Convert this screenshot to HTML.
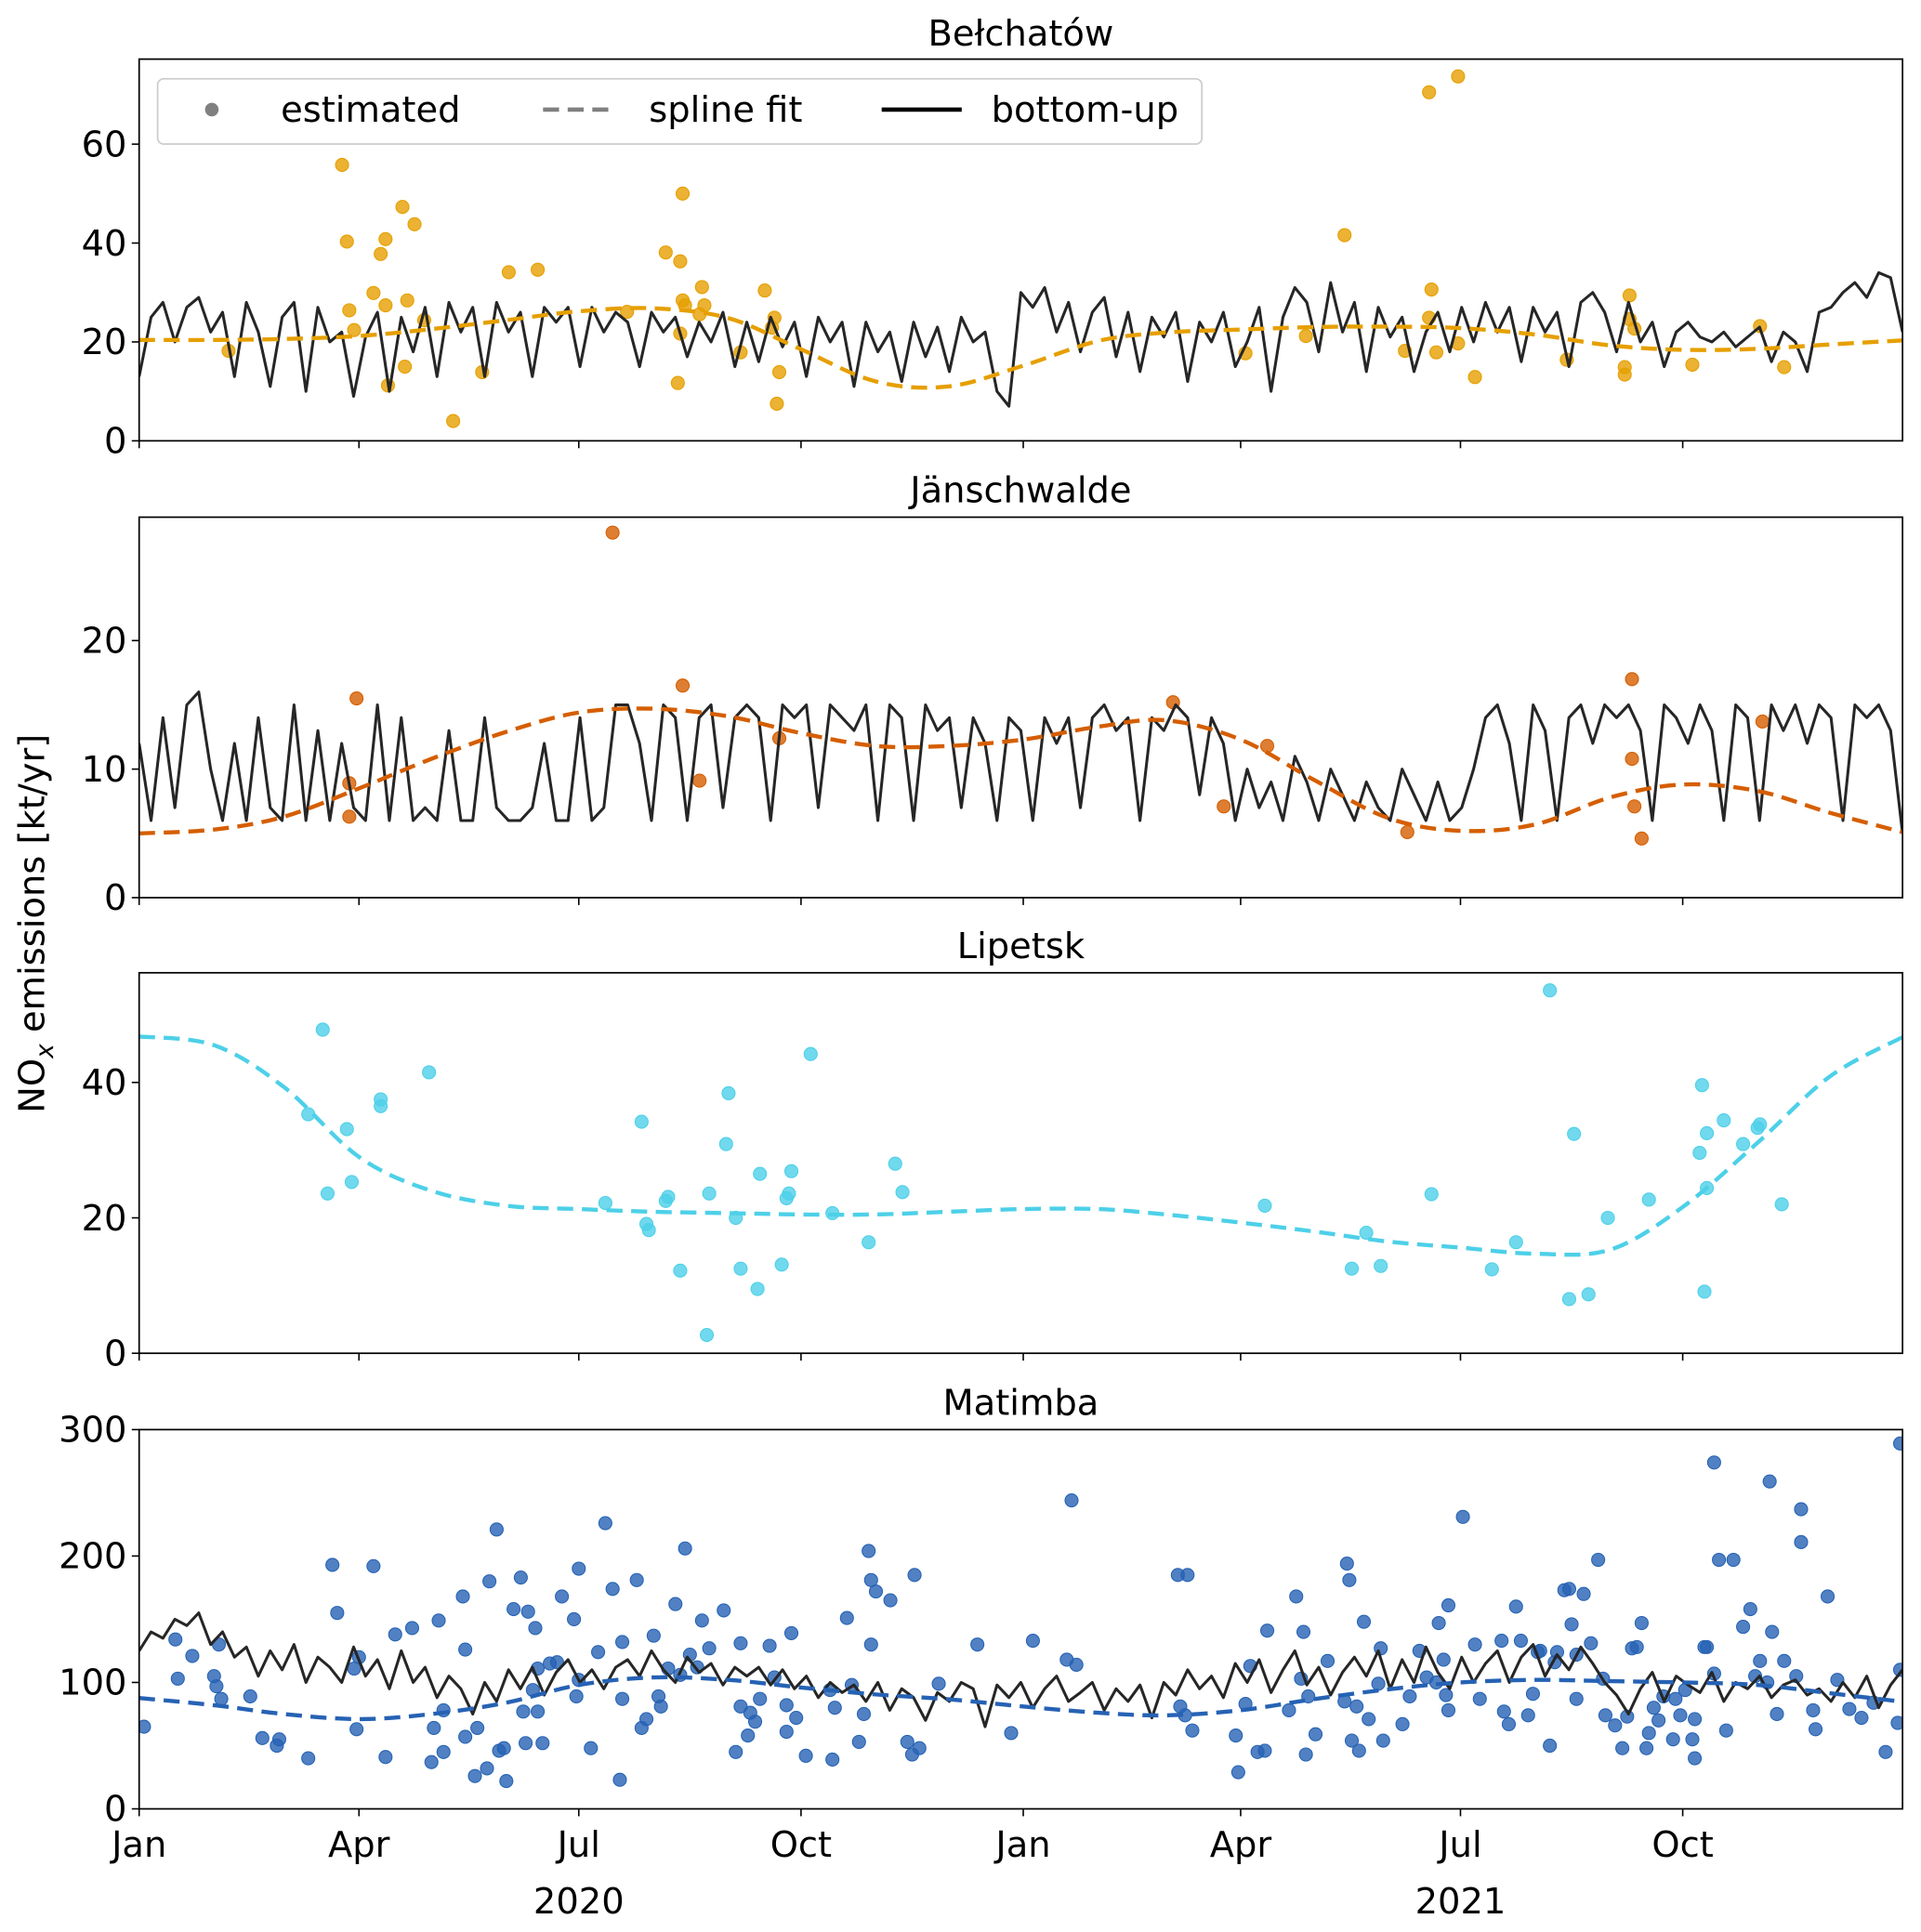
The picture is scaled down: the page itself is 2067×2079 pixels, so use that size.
<!DOCTYPE html>
<html><head><meta charset="utf-8"><style>
html,body{margin:0;padding:0;background:#fff;}
svg{display:block;font-family:"DejaVu Sans","Liberation Sans",sans-serif;}
</style></head><body>
<svg id="chart" width="2067" height="2079" viewBox="0 0 1560 1569" preserveAspectRatio="none" xmlns="http://www.w3.org/2000/svg">
<text transform="translate(36,750) rotate(-90)" text-anchor="middle" font-size="29" fill="#000">NO<tspan font-size="20" dy="7" font-style="italic">x</tspan><tspan dy="-7"> emissions [kt/yr]</tspan></text>
<g id="panels"></g>
<g>
<rect x="128" y="64" width="848" height="53" rx="5" fill="#fff" fill-opacity="0.85" stroke="#ccc" stroke-width="1.3"/>
<circle cx="172" cy="89" r="5.5" fill="#808080"/>
<text x="228" y="99" font-size="29">estimated</text>
<line x1="441" y1="89" x2="499" y2="89" stroke="#808080" stroke-width="3.5" stroke-dasharray="13,7"/>
<text x="527" y="99" font-size="29">spline fit</text>
<line x1="716" y1="89" x2="781" y2="89" stroke="#000" stroke-width="3.5"/>
<text x="805" y="99" font-size="29">bottom-up</text>
</g>
</svg>
<script>
const knotDays=[0,31,60,91,121,152,182,213,244,274,305,335,366,397,425,456,486,517,547,578,609,639,670,700,730];
const monthTickDays=[0,91,182,274,366,456,547,639];
const monthTickLabels=["Jan","Apr","Jul","Oct","Jan","Apr","Jul","Oct"];
const yearLabels=["2020","2021"];
const yearLabelDays=[182,547];

const belTicks=[0,20,40,60];
const belDotDays=[37,84,86,87,89,97,100,102,102,103,109,110,111,114,118,130,142,153,165,202,218,223,224,225,225,226,224,232,233,234,249,259,262,264,265,263,458,483,499,524,534,535,534,537,546,546,553,591,615,615,617,619,617,643,671,681];
const belDotVals=[18.2,55.8,40.3,26.4,22.4,29.9,37.8,40.8,27.4,11.2,47.3,15,28.4,43.8,24.4,4,13.9,34.1,34.6,26.1,38.1,11.7,36.3,50,28.4,27.4,21.7,25.6,31.1,27.4,17.9,30.4,22.9,7.5,13.9,24.9,17.7,21.2,41.6,18.2,70.5,30.6,24.9,17.9,73.7,19.7,12.9,16.4,13.4,14.9,29.4,22.7,24.6,15.4,23.2,14.9];
const belSpline=[20.4,20.4,20.6,21.2,22.6,24.4,26.2,26.8,24.8,18.5,12,11,15.2,20.2,21.9,22.5,23,23.1,22.8,21.5,19.3,18.4,18.6,19.5,20.3];
const belBottomUp=[13,25,28,20,27,29,22,26, 13,28,22,11,25,28,10, 27,20,22,9,21,26,10, 25,18,27,13,28,22,27,13,28,22, 26,13,27,24,27,15,27,22,26, 24,15,26,22,25,17,24,20,26,15, 24,16,25,19,24,13,25,20,24,11, 24,18,22,12,24,17,23,14,25,20,22,10, 7,30,27,31,22,28,18,26,29,17, 26,14,25,21,26,12,24,20,26,15, 20,27,10,25,31,28,18,32,22,28, 14,27,21,25,14,22,26,18,27,20, 28,22,27,16,27,22,26,15,28,30, 26,18,28,20,24,15,22,24, 21,20,22,19,21,23,16,22,20,14, 26,27,30,32,29,34,33,22];

const janTicks=[0,10,20];
const janDotDays=[90,87,87,196,225,232,265,428,449,467,525,618,618,619,622,672];
const janDotVals=[15.5,8.9,6.3,28.4,16.5,9.1,12.4,15.2,7.1,11.8,5.1,17.0,10.8,7.1,4.6,13.7];
const janSpline=[5.0,5.3,6.3,8.5,10.8,12.9,14.4,14.7,14.1,12.8,11.8,11.8,12.3,13.3,13.8,12.3,9.2,6.2,5.2,5.7,7.8,8.8,8.3,6.6,5.1];
const janBottomUp=[12,6,14,7,15,16,10,6, 12,6,14,7,6,15,6, 13,6,12,7,6,15,6, 14,6,7,6,13,6,6,14,7,6, 6,7,12,6,6,14,6,7,15, 15,12,6,15,14,6,14,15,7,14, 15,14,6,15,14,15,7,15,14,13, 15,6,15,14,6,15,13,14,7,14,12,6, 14,13,6,14,12,14,7,14,15,13, 14,6,14,13,15,14,8,14,12,6, 10,7,9,6,11,9,6,10,8,6, 9,7,6,10,8,6,9,6,7,10, 14,15,12,6,15,13,6,14,15,12, 15,14,15,13,6,15,14,12, 15,13,6,15,14,6,15,13,15,12, 15,14,6,15,14,15,13,5];

const lipTicks=[0,20,40];
const lipDotDays=[70,76,78,86,88,100,100,120,193,208,210,211,218,219,224,235,236,243,244,247,249,256,257,266,268,269,270,278,287,302,313,316,466,502,508,514,535,560,570,584,592,594,600,608,625,646,647,648,649,649,656,664,670,671,680];
const lipDotVals=[35.3,47.8,23.6,33.1,25.3,37.5,36.5,41.5,22.2,34.2,19.1,18.2,22.5,23.1,12.2,2.7,23.6,30.9,38.4,20,12.5,9.5,26.5,13.1,22.9,23.6,26.9,44.2,20.7,16.4,28,23.8,21.8,12.5,17.8,12.9,23.5,12.4,16.4,53.6,8,32.4,8.7,20,22.7,29.6,39.6,9.1,32.5,24.4,34.4,30.9,33.3,33.8,22];
const lipSpline=[46.8,45.5,39.3,29,24,21.8,21.3,20.9,20.7,20.5,20.5,20.9,21.3,21.3,20.5,19.3,18,16.5,15.6,14.7,15.3,21.6,31.1,40.9,46.7];

const matTicks=[0,100,200,300];
const matDotDays=[2,15,16,22,31,32,33,34,46,51,57,58,70,80,82,89,91,90,97,102,106,113,121,122,124,126,126,134,135,135,139,140,144,145,148,149,151,152,155,158,159,160,161,164,163,165,167,165,170,173,175,180,182,181,182,187,190,193,196,199,200,200,206,208,210,213,215,216,219,222,224,226,228,231,233,236,242,247,249,252,249,253,255,257,261,263,268,268,270,272,276,286,287,288,293,295,298,300,302,303,303,305,311,318,321,320,323,331,347,361,370,384,386,388,430,434,431,433,436,454,455,458,460,463,466,467,476,479,481,482,483,484,487,492,499,500,501,502,504,505,507,509,513,514,515,523,526,530,533,537,538,540,541,542,542,548,553,555,565,567,564,570,572,575,577,579,580,584,586,587,590,592,593,595,595,598,601,604,606,607,611,614,616,618,620,622,624,625,627,629,631,635,636,638,640,643,644,644,648,649,652,652,654,657,660,664,667,669,671,674,675,676,678,681,686,688,688,693,694,699,703,708,713,718,723,728,729,729];
const matDotVals=[65,134,103,121,105,97,130,87,89,56,50,55,40,193,155,111,120,63,192,41,138,143,37,64,149,78,45,168,126,57,26,64,32,180,221,46,48,22,158,183,77,52,156,143,94,77,52,111,115,116,168,150,190,89,102,48,124,226,174,23,132,87,181,64,71,137,89,81,111,162,106,206,122,112,149,127,157,45,131,58,81,76,69,87,129,104,82,61,139,72,42,94,39,80,151,98,53,75,204,181,130,172,165,53,185,43,48,99,130,60,133,118,244,114,185,185,81,74,62,58,29,83,113,45,46,141,78,168,103,140,43,89,59,117,85,194,181,54,81,46,148,71,99,127,54,67,89,125,104,100,147,118,90,78,161,231,130,87,77,67,133,160,133,74,91,124,125,50,116,124,173,174,146,122,87,170,131,197,103,74,66,48,73,127,128,147,48,60,80,70,89,55,87,74,94,55,40,71,128,128,107,274,197,62,197,144,158,105,117,100,259,140,75,117,105,237,211,78,63,168,102,79,72,84,45,68,110,289];
const matSpline=[87.7,82,75,71,75,84,98,104,102,96,90.5,86.7,81,76,74,78,86.7,94.5,100,102,101,100,98,91.5,84.7];
const matBottomUp=[125,140,135,150,145,155,130,140, 120,128,105,125,110,130,100, 120,112,100,128,105,118,95, 125,100,112,88,105,95,75,100,85,110, 95,112,90,108,118,100,110,95,112, 118,105,125,110,100,120,108,115,98,112, 105,112,98,110,95,105,88,100,92,98, 85,100,78,95,88,70,92,85,100,95,65,98, 88,100,80,95,105,85,92,100,78,95, 85,98,72,100,90,110,95,105,88,115, 100,118,92,110,125,98,112,90,108,120, 105,125,95,118,100,128,108,95,120,100, 115,125,100,120,130,105,122,110,128,115, 100,90,75,95,108,85,105,98, 92,108,85,100,95,105,88,98,102,90, 95,85,100,88,105,80,98,110];

const NS="http://www.w3.org/2000/svg";
const X0=113,X1=1545,DAYS=730;
function xScale(d){return X0+(d/DAYS)*(X1-X0);}
function mk(tag,attrs,parent){const e=document.createElementNS(NS,tag);for(const k in attrs)e.setAttribute(k,attrs[k]);parent.appendChild(e);return e;}

const panelDefs=[
 {key:"belchatow",title:"Bełchatów",top:48,bot:358,ymax:77.2,color:"#E69F00",ticks:belTicks,dd:belDotDays,dv:belDotVals,sp:belSpline,bu:belBottomUp,titleY:37},
 {key:"janschwalde",title:"Jänschwalde",top:420,bot:729,ymax:29.6,color:"#D55E00",ticks:janTicks,dd:janDotDays,dv:janDotVals,sp:janSpline,bu:janBottomUp,titleY:408},
 {key:"lipetsk",title:"Lipetsk",top:790,bot:1099,ymax:56.2,color:"#4DD0E8",ticks:lipTicks,dd:lipDotDays,dv:lipDotVals,sp:lipSpline,bu:null,titleY:778},
 {key:"matimba",title:"Matimba",top:1161,bot:1469,ymax:300,color:"#2662B4",ticks:matTicks,dd:matDotDays,dv:matDotVals,sp:matSpline,bu:matBottomUp,titleY:1149}
];
const root=document.getElementById("panels");
panelDefs.forEach((p,pi)=>{
 const g=mk("g",{},root);
 
 
 const y=v=>p.bot-(v/p.ymax)*(p.bot-p.top);
 const t=mk("text",{x:829,y:p.titleY,"text-anchor":"middle","font-size":29},g);
 t.textContent=p.title;
 
 
 const cp="clip"+pi;
 const cl=mk("clipPath",{id:cp},g);mk("rect",{x:X0,y:p.top,width:X1-X0,height:p.bot-p.top},cl);
 const plot=mk("g",{"clip-path":"url(#"+cp+")"},g);
 const dg=mk("g",{},plot);
 
 
 p.dd.forEach((d,i)=>{
  const c=mk("circle",{cx:xScale(d),cy:y(p.dv[i]),r:5.3,fill:p.color,"fill-opacity":0.8,stroke:p.color,"stroke-width":0.8},dg);
  
  
 });
 const pts=p.sp.map((v,i)=>[xScale(knotDays[i]),y(v)]);
 let dstr="M"+pts[0][0]+","+pts[0][1];
 for(let i=0;i<pts.length-1;i++){
  const p0=pts[Math.max(0,i-1)],p1=pts[i],p2=pts[i+1],p3=pts[Math.min(pts.length-1,i+2)];
  const c1=[p1[0]+(p2[0]-p0[0])/6,p1[1]+(p2[1]-p0[1])/6];
  const c2=[p2[0]-(p3[0]-p1[0])/6,p2[1]-(p3[1]-p1[1])/6];
  dstr+=" C"+c1[0]+","+c1[1]+" "+c2[0]+","+c2[1]+" "+p2[0]+","+p2[1];
 }
 if(p.bu){
  const n=p.bu.length;
  const bd=p.bu.map((v,i)=>(i?"L":"M")+xScale(i*DAYS/(n-1))+","+y(v)).join(" ");
  const bl=mk("path",{d:bd,fill:"none",stroke:"#262626","stroke-width":2.3,"stroke-linejoin":"round"},plot);
  
  
 }
 const sl=mk("path",{d:dstr,fill:"none",stroke:p.color,"stroke-width":3.3,"stroke-dasharray":"13,7"},plot);
 
 
 mk("rect",{x:X0,y:p.top,width:X1-X0,height:p.bot-p.top,fill:"none",stroke:"#000","stroke-width":1.3},g);
 p.ticks.forEach(v=>{
  mk("line",{x1:X0-6,x2:X0,y1:y(v),y2:y(v),stroke:"#000","stroke-width":1.2},g);
  const tl=mk("text",{x:X0-10,y:y(v)+10,"text-anchor":"end","font-size":29},g);
  tl.textContent=v;
  
  
 });
 monthTickDays.forEach((d,i)=>{
  mk("line",{x1:xScale(d),x2:xScale(d),y1:p.bot,y2:p.bot+6,stroke:"#000","stroke-width":1.2},g);
  if(pi===3){
   const xl=mk("text",{x:xScale(d),y:1508,"text-anchor":"middle","font-size":29},g);
   xl.textContent=monthTickLabels[i];
   
   
  }
 });
 if(pi===3){
  yearLabels.forEach((yl,i)=>{
   const e=mk("text",{x:xScale(yearLabelDays[i]),y:1554,"text-anchor":"middle","font-size":29},g);
   e.textContent=yl;
   
   
  });
 }
});
</script>
</body></html>
